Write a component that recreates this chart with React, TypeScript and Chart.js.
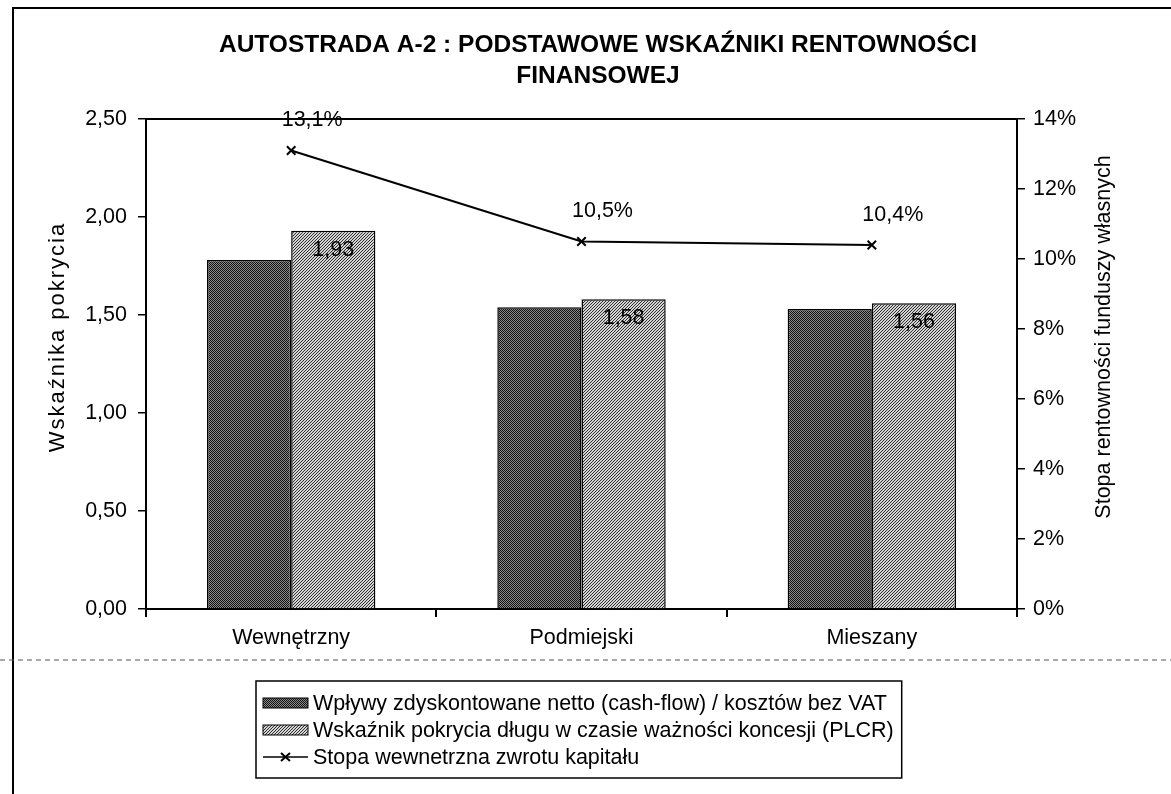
import React, { useEffect, useRef } from 'react';
import { Chart, registerables } from 'chart.js';

Chart.register(...registerables);

const categories = ['Wewnętrzny', 'Podmiejski', 'Mieszany'];
const cashFlowRatio = [1.78, 1.54, 1.53];
const plcrRatio = [1.93, 1.58, 1.56];
const irrPercent = [13.1, 10.5, 10.4];
const seriesNames = [
  'Wpływy zdyskontowane netto (cash-flow) / kosztów bez VAT',
  'Wskaźnik pokrycia długu w czasie ważności koncesji (PLCR)',
  'Stopa wewnetrzna zwrotu kapitału',
];
const titleLines = ['AUTOSTRADA A-2 : PODSTAWOWE WSKAŹNIKI RENTOWNOŚCI', 'FINANSOWEJ'];
const leftAxisTitle = 'Wskaźnika pokrycia';
const rightAxisTitle = 'Stopa rentowności funduszy własnych';
const leftAxisMax = 2.5;
const leftAxisStep = 0.5;
const rightAxisMax = 14;
const rightAxisStep = 2;

const FONT = '"Liberation Sans", Arial, sans-serif';
const TXT = 21.5;
const W = 1171;
const H = 794;

function makeDarkPattern(): CanvasPattern | string {
  const c = document.createElement('canvas');
  c.width = 2; c.height = 2;
  const g = c.getContext('2d');
  if (!g) return '#444';
  g.fillStyle = '#111111'; g.fillRect(0, 0, 2, 2);
  g.fillStyle = '#8a8a8a'; g.fillRect(1, 0, 1, 1); g.fillRect(0, 1, 1, 1);
  return g.createPattern(c, 'repeat') || '#444';
}

function makeLightPattern(): CanvasPattern | string {
  const c = document.createElement('canvas');
  c.width = 3; c.height = 3;
  const g = c.getContext('2d');
  if (!g) return '#aaa';
  g.fillStyle = '#d4d4d4'; g.fillRect(0, 0, 3, 3);
  g.fillStyle = '#2e2e2e';
  for (let x = 0; x < 3; x++) for (let y = 0; y < 3; y++) if ((x + y) % 3 === 0) g.fillRect(x, y, 1, 1);
  return g.createPattern(c, 'repeat') || '#aaa';
}

const fmtComma = (v: number, d: number) => v.toFixed(d).replace('.', ',');

export default function App() {
  const ref = useRef<HTMLCanvasElement>(null);

  useEffect(() => {
    if (!ref.current) return;
    const dark = makeDarkPattern();
    const light = makeLightPattern();

    const decor = {
      id: 'decor',
      afterDraw(chart: any) {
        const ctx = chart.ctx as CanvasRenderingContext2D;
        const a = chart.chartArea;
        ctx.save();
        // outer frame
        ctx.strokeStyle = '#000';
        ctx.lineWidth = 2;
        ctx.beginPath();
        ctx.moveTo(13, H); ctx.lineTo(13, 8); ctx.lineTo(W, 8);
        ctx.stroke();
        // dotted scan line
        ctx.strokeStyle = '#555';
        ctx.lineWidth = 1;
        ctx.setLineDash([5, 4]);
        ctx.beginPath(); ctx.moveTo(0, 660); ctx.lineTo(W, 660); ctx.stroke();
        ctx.setLineDash([]);
        // top border of plot area
        ctx.strokeStyle = '#000';
        ctx.lineWidth = 2;
        ctx.beginPath(); ctx.moveTo(a.left, a.top); ctx.lineTo(a.right, a.top); ctx.stroke();

        // title
        ctx.fillStyle = '#000';
        ctx.textAlign = 'center';
        ctx.textBaseline = 'middle';
        ctx.font = `bold 24.5px ${FONT}`;
        ctx.fillText(titleLines[0], 598, 45);
        ctx.fillText(titleLines[1], 598, 76);

        // axis titles
        ctx.save();
        ctx.font = `22px ${FONT}`;
        (ctx as any).letterSpacing = '2px';
        ctx.translate(58, 337); ctx.rotate(-Math.PI / 2);
        ctx.fillText(leftAxisTitle, 0, 0);
        ctx.restore();
        ctx.save();
        ctx.font = `${TXT}px ${FONT}`;
        ctx.translate(1104, 337); ctx.rotate(-Math.PI / 2);
        ctx.fillText(rightAxisTitle, 0, 0);
        ctx.restore();

        ctx.font = `${TXT}px ${FONT}`;
        // line point labels
        const lineMeta = chart.getDatasetMeta(2);
        lineMeta.data.forEach((p: any, i: number) => {
          ctx.fillText(`${fmtComma(irrPercent[i], 1)}%`, p.x + 21, p.y - 30);
        });
        // PLCR bar labels
        const barMeta = chart.getDatasetMeta(1);
        barMeta.data.forEach((b: any, i: number) => {
          ctx.fillText(fmtComma(plcrRatio[i], 2), b.x, b.y + 19);
        });

        // legend box
        const textX = 313;
        const maxW = Math.max(...seriesNames.map((s) => ctx.measureText(s).width));
        const lx = 256, ly = 681, lh = 97;
        const lw = textX + maxW + 8 - lx;
        ctx.fillStyle = '#fff';
        ctx.fillRect(lx, ly, lw, lh);
        ctx.strokeStyle = '#000';
        ctx.lineWidth = 1.5;
        ctx.strokeRect(lx, ly, lw, lh);
        const rows = [703, 730, 757];
        const fills = [dark, light];
        ctx.textAlign = 'left';
        rows.forEach((ry, i) => {
          if (i < 2) {
            ctx.fillStyle = fills[i] as any;
            ctx.fillRect(263, ry - 5, 45, 10);
            ctx.strokeStyle = '#000';
            ctx.lineWidth = 1;
            ctx.strokeRect(263, ry - 5, 45, 10);
          } else {
            ctx.strokeStyle = '#000';
            ctx.lineWidth = 1.5;
            ctx.beginPath(); ctx.moveTo(263, ry); ctx.lineTo(308, ry); ctx.stroke();
            ctx.lineWidth = 2;
            ctx.beginPath();
            ctx.moveTo(281, ry - 4); ctx.lineTo(290, ry + 4);
            ctx.moveTo(290, ry - 4); ctx.lineTo(281, ry + 4);
            ctx.stroke();
          }
          ctx.fillStyle = '#000';
          ctx.fillText(seriesNames[i], textX, ry + 1);
        });
        ctx.restore();
      },
    };

    const tickFont = { family: FONT, size: TXT };
    const chart = new Chart(ref.current, {
      type: 'bar',
      data: {
        labels: categories,
        datasets: [
          {
            type: 'bar',
            label: seriesNames[0],
            data: cashFlowRatio,
            backgroundColor: dark as any,
            borderColor: '#000',
            borderWidth: 1.5,
            yAxisID: 'y',
            order: 1,
            categoryPercentage: 0.58,
            barPercentage: 1,
          },
          {
            type: 'bar',
            label: seriesNames[1],
            data: plcrRatio,
            backgroundColor: light as any,
            borderColor: '#000',
            borderWidth: 1.5,
            yAxisID: 'y',
            order: 1,
            categoryPercentage: 0.58,
            barPercentage: 1,
          },
          {
            type: 'line',
            label: seriesNames[2],
            data: irrPercent,
            borderColor: '#000',
            borderWidth: 2,
            pointStyle: 'crossRot',
            pointRadius: 6,
            pointBorderWidth: 2,
            pointBorderColor: '#000',
            fill: false,
            tension: 0,
            yAxisID: 'y1',
            order: 0,
          } as any,
        ],
      },
      options: {
        responsive: false,
        animation: false,
        layout: { padding: { left: 13, right: 0, top: 119, bottom: 135 } },
        plugins: {
          legend: { display: false },
          tooltip: { enabled: false },
          title: { display: false },
        },
        scales: {
          x: {
            offset: true,
            grid: { display: true, drawOnChartArea: false, drawTicks: true, tickLength: 8, color: '#000', lineWidth: 2, offset: true },
            border: { display: true, color: '#000', width: 2 },
            ticks: { color: '#000', font: tickFont, padding: 8 },
            afterFit: (s: any) => { s.height = 50; },
          },
          y: {
            position: 'left',
            min: 0,
            max: leftAxisMax,
            grid: { display: true, drawOnChartArea: false, drawTicks: true, tickLength: 8, color: '#000', lineWidth: 1.5 },
            border: { display: true, color: '#000', width: 2 },
            ticks: {
              color: '#000',
              font: tickFont,
              stepSize: leftAxisStep,
              padding: 11,
              callback: (v: any) => fmtComma(Number(v), 2),
            },
            afterFit: (s: any) => { s.width = 133; },
          },
          y1: {
            position: 'right',
            min: 0,
            max: rightAxisMax,
            grid: { display: true, drawOnChartArea: false, drawTicks: true, tickLength: 8, color: '#000', lineWidth: 1.5 },
            border: { display: true, color: '#000', width: 2 },
            ticks: {
              color: '#000',
              font: tickFont,
              stepSize: rightAxisStep,
              padding: 8,
              callback: (v: any) => `${v}%`,
            },
            afterFit: (s: any) => { s.width = 154; },
          },
        },
      } as any,
      plugins: [decor],
    });
    return () => chart.destroy();
  }, []);

  return (
    <div style={{ position: 'fixed', left: 0, top: 0, width: W, height: H, background: '#fff' }}>
      <canvas ref={ref} width={W} height={H} style={{ display: 'block', width: W, height: H }} />
    </div>
  );
}
